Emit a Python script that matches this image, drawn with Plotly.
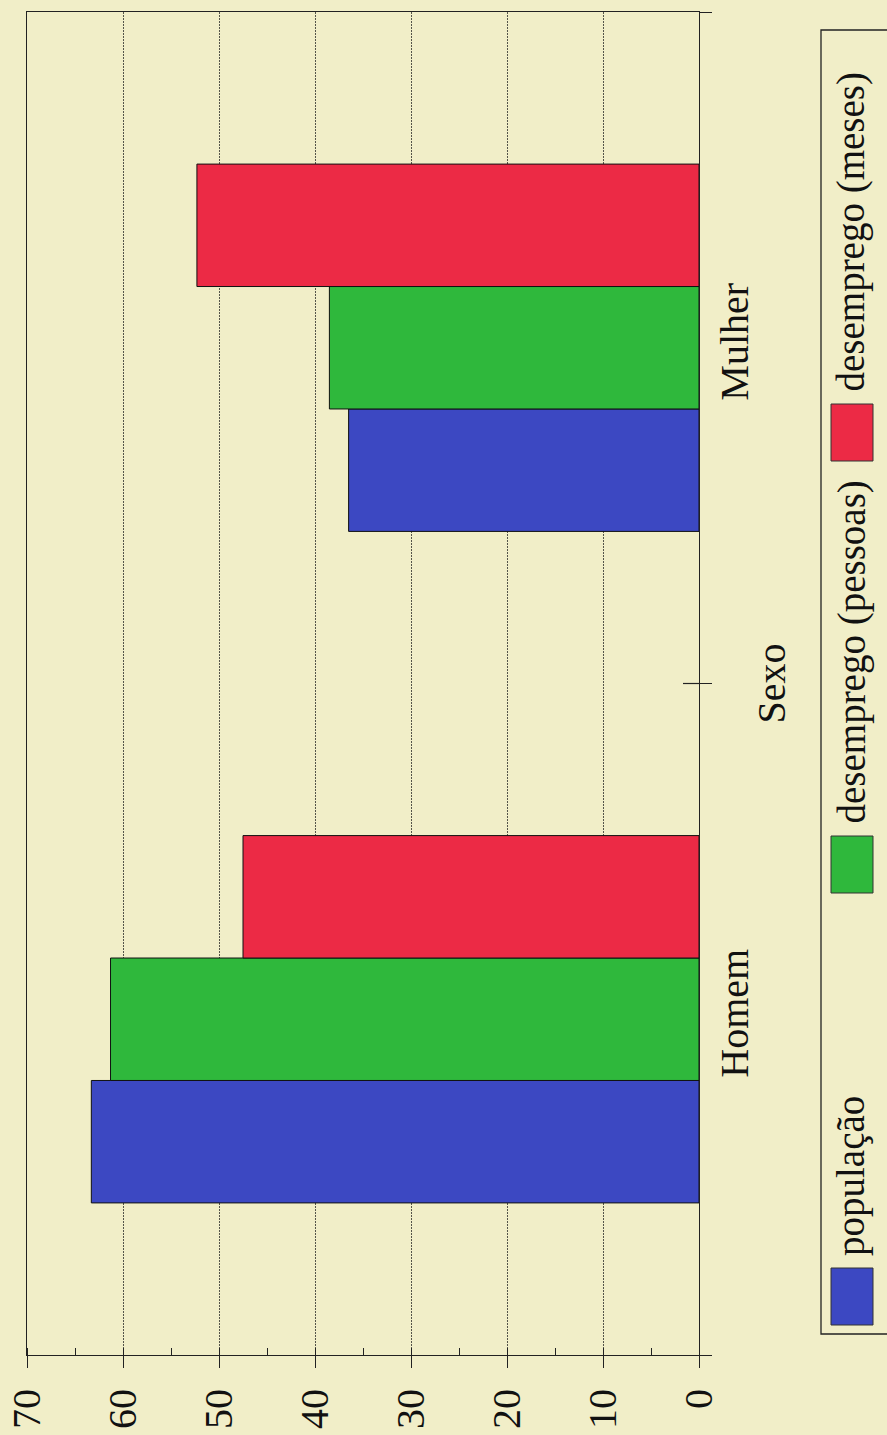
import plotly.graph_objects as go

# Data
categorias = ["Homem", "Mulher"]
populacao = [63.3, 36.5]
desemprego_pessoas = [61.3, 38.5]
desemprego_meses = [47.5, 52.3]

series_nomes = ["população", "desemprego (pessoas)", "desemprego (meses)"]
valores_ticks = [0, 10, 20, 30, 40, 50, 60, 70]

# Styling
BG = "#f1eec8"
CORES = ["#3c48c2", "#2fb83c", "#ec2a45"]
FONTE = "Liberation Serif"

W, H = 887, 1435
L, R, T, B = 27, 188, 12, 80
PW, PH = W - L - R, H - T - B


def px_x(p):
    return (p - L) / PW


def px_y(p):
    return (H - B - p) / PH


fig = go.Figure()
for nome, vals, cor in zip(series_nomes,
                           [populacao, desemprego_pessoas, desemprego_meses],
                           CORES):
    fig.add_trace(go.Bar(
        y=categorias, x=vals, name=nome, orientation="h",
        marker=dict(color=cor, line=dict(color="#111111", width=1)),
        showlegend=False,
    ))

fig.update_layout(
    width=W, height=H,
    margin=dict(l=L, r=R, t=T, b=B, autoexpand=False),
    paper_bgcolor=BG, plot_bgcolor=BG,
    barmode="group", bargap=0.453, bargroupgap=0,
    font=dict(family=FONTE, color="#111111"),
)

fig.update_xaxes(
    range=[70, 0], tickvals=valores_ticks, ticktext=[str(v) for v in valores_ticks],
    tickangle=-90, tickfont=dict(size=40, family=FONTE),
    ticks="outside", ticklen=12, tickcolor="#222222", tickwidth=1,
    ticklabelstandoff=5,
    minor=dict(dtick=5, ticks="inside", ticklen=7, tickcolor="#222222", showgrid=False),
    showline=True, linecolor="#222222", linewidth=1.2, mirror=True,
    showgrid=True, gridcolor="#55554a", gridwidth=1, griddash="2px,1px",
    zeroline=False,
)

fig.update_yaxes(
    categoryorder="array", categoryarray=categorias,
    side="right", tickangle=-90, tickfont=dict(size=40, family=FONTE),
    tickson="boundaries", ticks="outside", ticklen=12, tickcolor="#222222",
    ticklabelstandoff=0,
    showline=True, linecolor="#222222", linewidth=1.2, mirror=True,
    showgrid=False, zeroline=False,
    title=dict(text="Sexo", font=dict(size=40, family=FONTE), standoff=0),
)

# inner half of the category divider tick
fig.add_shape(type="line", xref="paper", yref="y", x0=1 - 16 / PW, x1=1, y0=0.5, y1=0.5,
              line=dict(color="#222222", width=1.2))

# Legend drawn with rotated text
fig.add_shape(type="rect", xref="paper", yref="paper",
              x0=px_x(821), x1=px_x(905), y0=px_y(1334), y1=px_y(30),
              line=dict(color="#222222", width=1.3), fillcolor=BG, layer="below")

base_swatch = [1325, 893, 461]
for nome, cor, yb in zip(series_nomes, CORES, base_swatch):
    fig.add_shape(type="rect", xref="paper", yref="paper",
                  x0=px_x(831), x1=px_x(873), y0=px_y(yb), y1=px_y(yb - 57),
                  line=dict(color="#333333", width=1), fillcolor=cor)
    fig.add_annotation(xref="paper", yref="paper", x=px_x(851), y=px_y(yb - 57 - 10),
                       text=nome, textangle=-90, showarrow=False,
                       xanchor="center", yanchor="bottom",
                       font=dict(size=39, family=FONTE, color="#111111"))

fig.write_html("out.html")
